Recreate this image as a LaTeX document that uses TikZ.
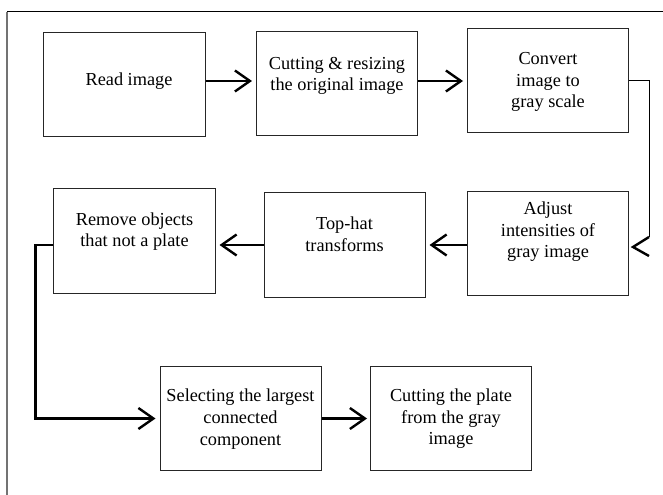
\documentclass[tikz,border=0pt]{standalone}
\usepackage{fontspec}
\setmainfont{Liberation Serif}
\usetikzlibrary{arrows.meta,calc}
\begin{document}
\begin{tikzpicture}[x=1bp,y=-1bp,
  box/.style={draw=black!85,line width=1bp,minimum width=161bp,minimum height=104bp,inner sep=0pt},
  txt/.style={align=center,inner sep=0pt,font=\fontsize{18.3bp}{21.6bp}\selectfont},
  arr/.style={line width=2.4bp,-{Straight Barb[length=15bp,width=21bp,line width=2.4bp]},shorten >=4bp},
  barb/.style={line width=2.4bp}]
\useasboundingbox (0,0) rectangle (663,495);
% frame
\draw[black!55,line width=1.5bp] (7,495) -- (7,12);
\draw[black,line width=1bp] (7,12) -- (663,12);
% boxes
\node[box] (read) at (124.5,85) {};
\node[box] (cut)  at (337,84) {};
\node[box] (conv) at (548,81) {};
\node[box] (adj)  at (548,243.5) {};
\node[box] (top)  at (344.5,245) {};
\node[box] (rem)  at (134.5,241) {};
\node[box] (sel)  at (240.5,418.5) {};
\node[box] (cp)   at (451,418.5) {};
% texts
\node[txt] (readt) at (129,81) {Read image};
\node[txt] (cutt)  at (337,76) {Cutting \& resizing\\the original image};
\node[txt] (convt) at (548,82) {Convert\\image to\\gray scale};
\node[txt] (adjt)  at (548,232) {Adjust\\intensities of\\gray image};
\node[txt] (topt)  at (344.5,234) {Top-hat\\transforms};
\node[txt] (remt)  at (134.5,231.5) {Remove objects\\that not a plate};
\node[txt] (selt)  at (240.5,419) {Selecting the largest\\connected\\component};
\node[txt] (cpt)   at (451,419) {Cutting the plate\\from the gray\\image};
% connectors
\draw[arr] (read.east |- conv.east) -- (cut.west |- conv.east);
\draw[arr] (cut.east |- conv.east) -- (conv.west);
\coordinate (rc) at ($(conv.east)+(20,0)$);
\coordinate (tip) at ($(adj.east)+(4,3.5)$);
\draw[line width=1bp] (conv.east) -- (rc) -- (rc |- {$(tip)+(0,-10)$});
\draw[barb,line join=miter] ($(tip)+(16,-10)$) -- (tip) -- ($(tip)+(16,9)$);
\draw[arr] (adj.west |- top.east) -- (top.east);
\draw[arr] (top.west) -- (rem.east |- top.west);
\draw[arr] (rem.west |- top.west) -- ++(-18,0) coordinate (lc) |- (sel.west);
\draw[arr,shorten >=3bp] (sel.east) -- (cp.west);
\end{tikzpicture}
\end{document}
